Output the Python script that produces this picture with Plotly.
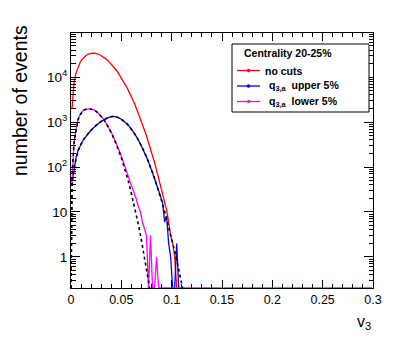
import numpy as np
import plotly.graph_objects as go

# histogram bin centres (v3), 0.002 wide
bin_width = 0.002
v_centres = np.round(np.arange(0.001, 0.3, bin_width), 4)

# "no cuts" (red)
red_counts = [2000, 7500, 12400, 16900, 21100, 24700, 27800, 30300, 32100, 33300,
              33900, 33900, 33400, 32400, 31000, 29200, 27300, 25100, 22900, 20600,
              18400, 16200, 14200, 12200, 10400, 8830, 7410, 6150, 5060, 4120,
              3300, 2620, 2000, 1550, 1180, 890, 660, 490, 355, 250,
              178, 126, 85, 56, 37, 25, 17, 11, 6, 3,
              2, 1, 0]

# q3,a upper 5% (blue)
blue_counts = [45, 95, 160, 230, 295, 360, 425, 490, 555, 625,
               700, 775, 850, 925, 1000, 1070, 1140, 1200, 1255, 1300,
               1335, 1330, 1300, 1260, 1195, 1120, 1035, 942, 845, 748,
               653, 561, 476, 398, 327, 266, 213, 168, 131, 100,
               76, 56, 41, 30, 21, 16, 6, 8, 2, 1,
               0, 0, 2, 0]

# q3,a lower 5% (magenta), zero afterwards
magenta_counts = [40, 350, 700, 1150, 1450, 1700, 1850, 1930, 1960, 1960,
                  1930, 1860, 1740, 1590, 1420, 1270, 1110, 940, 800, 655,
                  530, 425, 335, 262, 200, 152, 112, 82, 62, 45,
                  34, 26, 19, 13, 10, 6, 4, 3, 0, 3,
                  0, 0, 1, 0]
magenta_counts = magenta_counts + [0] * (len(v_centres) - len(magenta_counts))

# fits (black dashed), first point is v3 = 0
fit_blue = [0, 40, 95, 160, 230, 295, 360, 425, 490, 555, 625,
            700, 775, 850, 925, 1000, 1070, 1140, 1200, 1255, 1300,
            1335, 1330, 1300, 1260, 1195, 1120, 1035, 942, 845, 748,
            653, 561, 476, 398, 327, 266, 213, 168, 131, 100,
            76, 56, 41, 30, 21, 15, 10.4, 7.1, 4.8, 3.2,
            2.1, 1.35, 0.86, 0.54, 0.33, 0.2, 0.12]
fit_magenta = [0, 60, 355, 710, 1120, 1450, 1690, 1850, 1930, 1960, 1950,
               1910, 1840, 1730, 1590, 1430, 1265, 1100, 935, 785, 645,
               520, 412, 322, 247, 186, 137, 99, 70, 48, 32,
               21, 13.5, 8.5, 5.2, 3.1, 1.8, 1.0, 0.55, 0.29, 0.15]

y_lo, y_hi = -0.69, 4.98
y_floor = 10 ** y_lo


def floored(a):
    a = np.asarray(a, dtype=float)
    return np.where(a > 0, a, y_floor)


fig = go.Figure()

hists = [(red_counts, "#ff0000"), (blue_counts, "#0000ff"), (magenta_counts, "#ff00ff")]
for counts, col in hists:
    fig.add_trace(go.Scatter(x=v_centres[:len(counts)], y=floored(counts), mode="lines",
                             line=dict(color=col, width=1.3),
                             showlegend=False, hoverinfo="skip"))

for fit in (fit_blue, fit_magenta):
    xv = np.r_[0.0, v_centres[:len(fit) - 1]]
    fig.add_trace(go.Scatter(x=xv, y=floored(fit), mode="lines",
                             line=dict(color="black", width=1.6, dash="3px,3px"),
                             showlegend=False, hoverinfo="skip"))

# page body has an 8px margin, so everything is laid out 8px up/left
OFF = 8
W, H = 415 - OFF, 341 - OFF
L, R, T, B = 71 - OFF, 373 - OFF, 33 - OFF, 288 - OFF


def px(x):
    return (x - OFF - L) / (R - L)


def py(y):
    return (B - (y - OFF)) / (B - T)


font = "Liberation Sans, Arial, Helvetica, sans-serif"

minor_y = [m * 10.0 ** e for e in range(-1, 5) for m in range(2, 10)]
minor_y = [m for m in minor_y if y_lo <= np.log10(m) <= y_hi]

fig.update_xaxes(range=[0, 0.3], tick0=0, dtick=0.05, ticks="inside", ticklen=8,
                 tickcolor="black", showline=True, linecolor="black", linewidth=1,
                 mirror="allticks", showgrid=False, zeroline=False,
                 tickfont=dict(family=font, size=12.5, color="black"),
                 minor=dict(dtick=0.01, ticks="inside", ticklen=4, tickcolor="black",
                            showgrid=False))
fig.update_yaxes(type="log", range=[y_lo, y_hi],
                 tickvals=[1, 10, 100, 1000, 10000],
                 ticktext=["1", "10", "10<sup>2</sup>", "10<sup>3</sup>", "10<sup>4</sup>"],
                 ticks="inside", ticklen=9, tickcolor="black", showline=True,
                 linecolor="black", linewidth=1, mirror="allticks", showgrid=False,
                 zeroline=False, tickfont=dict(family=font, size=13.5, color="black"),
                 minor=dict(tickvals=minor_y, ticks="inside", ticklen=4.5,
                            tickcolor="black", showgrid=False))

# axis titles
fig.add_annotation(text="number of events", textangle=-90, xref="paper", yref="paper",
                   x=px(20), y=py(101), xanchor="center", yanchor="middle",
                   showarrow=False, font=dict(family=font, size=19.5, color="black"))
fig.add_annotation(text="v<sub>3</sub>", xref="paper", yref="paper", x=px(373), y=py(322),
                   xanchor="right", yanchor="middle", showarrow=False,
                   font=dict(family=font, size=16, color="black"))

# legend box
fig.add_shape(type="rect", xref="paper", yref="paper", x0=px(232), x1=px(369),
              y0=py(44), y1=py(112), line=dict(color="black", width=1),
              fillcolor="white", layer="above")
fig.add_annotation(text="Centrality 20-25%", xref="paper", yref="paper", x=px(242),
                   y=py(53), xanchor="left", yanchor="middle", showarrow=False,
                   font=dict(family=font, size=10.5, color="black", weight="bold"))
entries = [("no cuts", "#ff0000", 70.5, 263),
           ("q<sub>3,a</sub>  upper 5%", "#0000ff", 86, 266.5),
           ("q<sub>3,a</sub>  lower 5%", "#ff00ff", 101.5, 266.5)]
for label, col, yy, xt in entries:
    fig.add_shape(type="line", xref="paper", yref="paper", x0=px(237), x1=px(260),
                  y0=py(yy), y1=py(yy), line=dict(color=col, width=1.3), layer="above")
    fig.add_shape(type="circle", xref="paper", yref="paper", x0=px(247), x1=px(250),
                  y0=py(yy - 1.5), y1=py(yy + 1.5), line=dict(color=col, width=0.5),
                  fillcolor=col, layer="above")
    fig.add_annotation(text=label, xref="paper", yref="paper", x=px(xt), y=py(yy),
                       xanchor="left", yanchor="middle", showarrow=False,
                       font=dict(family=font, size=10.5, color="black", weight="bold"))

fig.update_layout(width=W, height=H, margin=dict(l=L, r=W - R, t=T, b=H - B),
                  paper_bgcolor="white", plot_bgcolor="white", showlegend=False)

fig.write_html("out.html")
